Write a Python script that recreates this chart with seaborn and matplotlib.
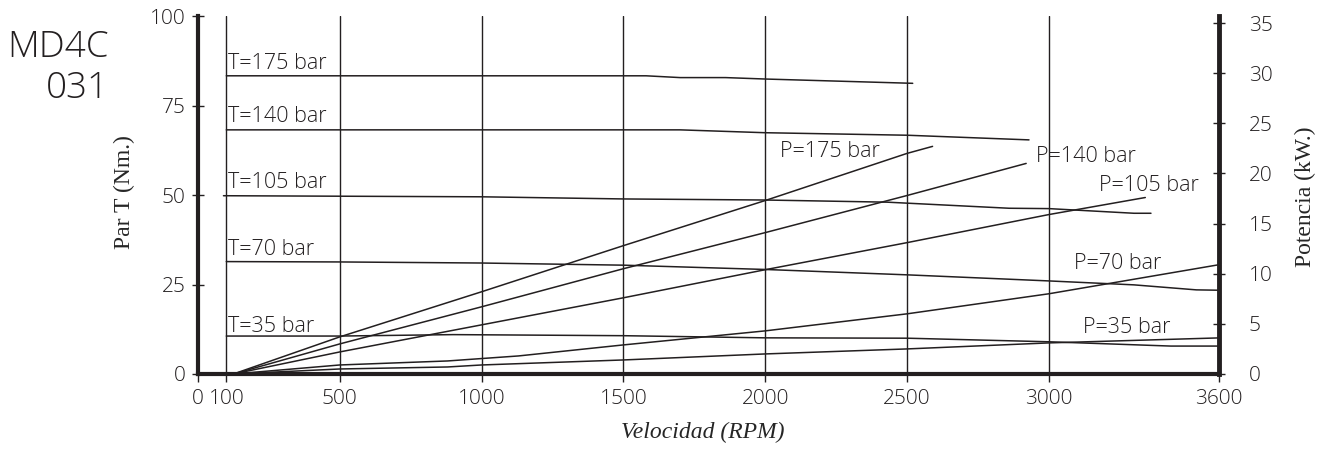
import matplotlib
matplotlib.use("Agg")
import matplotlib.pyplot as plt
import seaborn as sns

# axis ticks
rpm_ticks = [0, 100, 500, 1000, 1500, 2000, 2500, 3000, 3600]
torque_ticks = [0, 25, 50, 75, 100]
power_ticks = [0, 5, 10, 15, 20, 25, 30, 35]

# torque curves, Nm (left axis)
t175_rpm = [100, 1580, 1700, 1860, 2000, 2520]
t175_nm = [83.3, 83.3, 82.8, 82.8, 82.4, 81.2]
t140_rpm = [100, 1700, 2000, 2500, 2930]
t140_nm = [68.2, 68.2, 67.4, 66.7, 65.4]
t105_rpm = [90, 1000, 1500, 2000, 2430, 2860, 3000, 3300, 3360]
t105_nm = [49.8, 49.5, 48.9, 48.6, 48.0, 46.3, 46.2, 44.9, 44.9]
t70_rpm = [100, 500, 1000, 1500, 2000, 2500, 3000, 3300, 3520, 3600]
t70_nm = [31.4, 31.3, 31.0, 30.4, 29.2, 27.7, 26.0, 24.9, 23.5, 23.4]
t35_rpm = [100, 500, 900, 1500, 2000, 2500, 3000, 3430, 3600]
t35_nm = [10.6, 10.6, 11.0, 10.7, 10.1, 10.0, 9.0, 7.8, 7.8]

# power curves, kW (right axis)
p175_rpm = [125, 500, 1000, 1500, 2000, 2500, 2590]
p175_kw = [0, 3.7, 8.2, 12.8, 17.3, 22.0, 22.7]
p140_rpm = [125, 500, 1000, 1500, 2000, 2500, 2920]
p140_kw = [0, 3.0, 6.7, 10.5, 14.1, 17.8, 21.0]
p105_rpm = [125, 500, 1000, 1500, 2000, 2500, 3000, 3340]
p105_kw = [0, 2.2, 4.9, 7.6, 10.4, 13.1, 15.9, 17.6]
p70_rpm = [125, 500, 880, 1130, 1500, 2000, 2500, 3000, 3600]
p70_kw = [0, 0.9, 1.3, 1.8, 2.9, 4.3, 6.0, 8.0, 10.9]
p35_rpm = [125, 500, 880, 1000, 1500, 2000, 2500, 3000, 3600]
p35_kw = [0, 0.5, 0.7, 0.9, 1.4, 2.0, 2.5, 3.1, 3.6]

INK = "#231f20"
SANS = ["Open Sans", "DejaVu Sans"]
SERIF = ["Liberation Serif", "DejaVu Serif"]


def main():
    sns.set_theme(style="ticks")
    plt.rcParams["font.family"] = SANS
    plt.rcParams["text.color"] = INK
    plt.rcParams["xtick.color"] = INK
    plt.rcParams["ytick.color"] = INK

    fig, ax = plt.subplots(figsize=(13.32, 4.5), dpi=100)
    fig.subplots_adjust(left=0.1486, right=0.9152, bottom=0.1689, top=0.9644)
    ax2 = ax.twinx()

    torque = [
        (t175_rpm, t175_nm, "T=175 bar", 85.2),
        (t140_rpm, t140_nm, "T=140 bar", 70.4),
        (t105_rpm, t105_nm, "T=105 bar", 51.9),
        (t70_rpm, t70_nm, "T=70 bar", 33.2),
        (t35_rpm, t35_nm, "T=35 bar", 11.6),
    ]
    for xs, ys, name, ty in torque:
        sns.lineplot(x=xs, y=ys, ax=ax, color=INK, lw=1.1, legend=False)
        ax.text(105, ty, name, fontsize=15.5, weight="light", ha="left", va="baseline")

    power = [
        (p175_rpm, p175_kw, "P=175 bar", 2052, 21.6),
        (p140_rpm, p140_kw, "P=140 bar", 2955, 21.1),
        (p105_rpm, p105_kw, "P=105 bar", 3178, 18.2),
        (p70_rpm, p70_kw, "P=70 bar", 3089, 10.5),
        (p35_rpm, p35_kw, "P=35 bar", 3119, 4.1),
    ]
    for xs, ys, name, tx, ty in power:
        sns.lineplot(x=xs, y=ys, ax=ax2, color=INK, lw=1.1, legend=False)
        ax2.text(tx, ty, name, fontsize=15.5, weight="light", ha="left", va="baseline")

    ax.set_xlim(0, 3600)
    ax.set_ylim(0, 100)
    ax2.set_ylim(0, 35.7)
    ax.set_xticks(rpm_ticks)
    ax.set_yticks(torque_ticks)
    ax2.set_yticks(power_ticks)
    ax.grid(axis="x", color=INK, lw=1.0)
    ax.grid(axis="y", visible=False)
    ax2.grid(False)

    for a in (ax, ax2):
        a.spines["top"].set_visible(False)
    ax.spines["right"].set_visible(False)
    ax2.spines["left"].set_visible(False)
    ax2.spines["bottom"].set_visible(False)
    ax.spines["left"].set_linewidth(3)
    ax.spines["bottom"].set_linewidth(3)
    ax2.spines["right"].set_linewidth(3.5)
    for s in ("left", "bottom"):
        ax.spines[s].set_color(INK)
    ax2.spines["right"].set_color(INK)

    ax.tick_params(axis="x", direction="out", length=6, width=1, pad=5, labelsize=15)
    ax.tick_params(axis="y", direction="inout", length=8, width=1, pad=5, labelsize=15)
    ax2.tick_params(axis="y", direction="inout", length=9, width=1, pad=17, labelsize=15)
    for lab in ax.get_xticklabels() + ax.get_yticklabels() + ax2.get_yticklabels():
        lab.set_fontweight("light")

    ax.set_xlabel("Velocidad (RPM)", family=SERIF, style="italic", fontsize=17)
    ax.set_ylabel("Par T (Nm.)", family=SERIF, fontsize=17)
    ax2.set_ylabel("Potencia (kW.)", family=SERIF, fontsize=17)
    ax.xaxis.set_label_coords(0.4946, -0.134)
    ax.yaxis.set_label_coords(-0.062, 0.508)
    ax2.yaxis.set_label_coords(1.0744, 0.494)

    fig.text(109 / 1332, 0.873, "MD4C", fontsize=26.5, weight="light",
             ha="right", va="baseline")
    fig.text(109 / 1332, 0.782, "031", fontsize=26.5, weight="light",
             ha="right", va="baseline")

    fig.savefig("out.png", dpi=100)
    plt.close(fig)


if __name__ == "__main__":
    main()
